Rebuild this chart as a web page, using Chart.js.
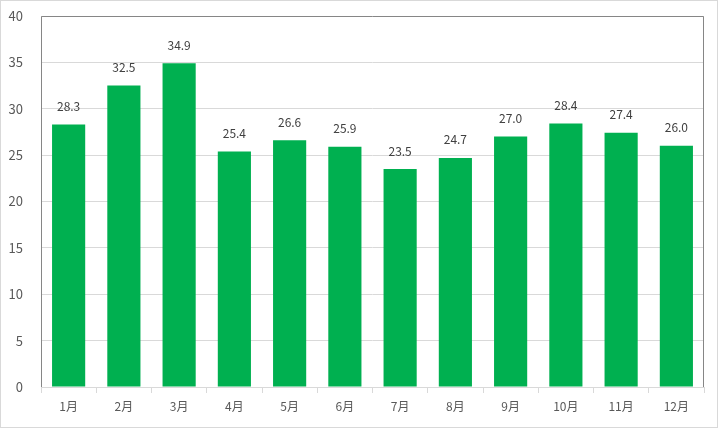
<!DOCTYPE html>
<html>
<head>
<meta charset="utf-8">
<script src="https://cdn.jsdelivr.net/npm/chart.js@4/dist/chart.umd.min.js"></script>
<style>
  html, body { margin: 0; padding: 0; background: #fff; }
  #wrap { width: 718px; height: 428px; position: relative; }
</style>
</head>
<body>
<div id="wrap"><canvas id="chart" width="718" height="428"></canvas></div>
<script>
const months = ['1月', '2月', '3月', '4月', '5月', '6月', '7月', '8月', '9月', '10月', '11月', '12月'];
const values = [28.3, 32.5, 34.9, 25.4, 26.6, 25.9, 23.5, 24.7, 27.0, 28.4, 27.4, 26.0];
const yTicks = [0, 5, 10, 15, 20, 25, 30, 35, 40];

const FONT = '"Noto Sans CJK JP", "Noto Sans", sans-serif';

// labels above bars + plot frame + outer border
const extras = {
    id: 'extras',
    afterDatasetsDraw(chart) {
        const ctx = chart.ctx;
        const meta = chart.getDatasetMeta(0);
        ctx.save();
        ctx.font = '12px ' + FONT;
        ctx.fillStyle = '#404040';
        ctx.textAlign = 'center';
        ctx.textBaseline = 'middle';
        meta.data.forEach((bar, i) => {
            ctx.fillText(values[i].toFixed(1), bar.x, bar.y - 18);
        });
        ctx.restore();
    },
    afterDraw(chart) {
        const ctx = chart.ctx;
        const a = chart.chartArea;
        ctx.save();
        ctx.strokeStyle = '#868686';
        ctx.lineWidth = 1;
        ctx.beginPath();
        ctx.moveTo(Math.round(a.left) + 0.5, Math.round(a.bottom));
        ctx.lineTo(Math.round(a.left) + 0.5, Math.round(a.top) + 0.5);
        ctx.lineTo(Math.round(a.right) - 0.5, Math.round(a.top) + 0.5);
        ctx.lineTo(Math.round(a.right) - 0.5, Math.round(a.bottom));
        ctx.stroke();
        ctx.strokeStyle = '#d9d9d9';
        ctx.strokeRect(0.5, 0.5, chart.width - 1, chart.height - 1);
        ctx.restore();
    }
};

new Chart(document.getElementById('chart'), {
    type: 'bar',
    data: {
        labels: months,
        datasets: [{
            data: values,
            backgroundColor: '#00b050',
            barPercentage: 0.6,
            categoryPercentage: 1.0
        }]
    },
    options: {
        responsive: false,
        animation: false,
        layout: { padding: { top: 16, right: 14, left: 0, bottom: 0 } },
        plugins: {
            legend: { display: false },
            tooltip: { enabled: false }
        },
        scales: {
            x: {
                grid: {
                    display: true,
                    offset: true,
                    drawOnChartArea: false,
                    color: '#d9d9d9',
                    tickLength: 6
                },
                border: { display: true, color: '#d9d9d9' },
                ticks: {
                    color: '#595959',
                    font: { family: FONT, size: 12 },
                    padding: 6
                },
                afterFit(scale) {
                    scale.height = 41;
                    scale.paddingLeft = 0;
                    scale.paddingRight = 0;
                }
            },
            y: {
                min: 0,
                max: 40,
                afterBuildTicks(scale) { scale.ticks = yTicks.map(v => ({ value: v })); },
                grid: { color: '#d9d9d9', drawTicks: false },
                border: { display: false },
                ticks: {
                    color: '#595959',
                    font: { family: FONT, size: 13 },
                    padding: 18
                },
                afterFit(scale) {
                    scale.width = 41;
                    scale.paddingTop = 0;
                    scale.paddingBottom = 0;
                }
            }
        }
    },
    plugins: [extras]
});
</script>
</body>
</html>
